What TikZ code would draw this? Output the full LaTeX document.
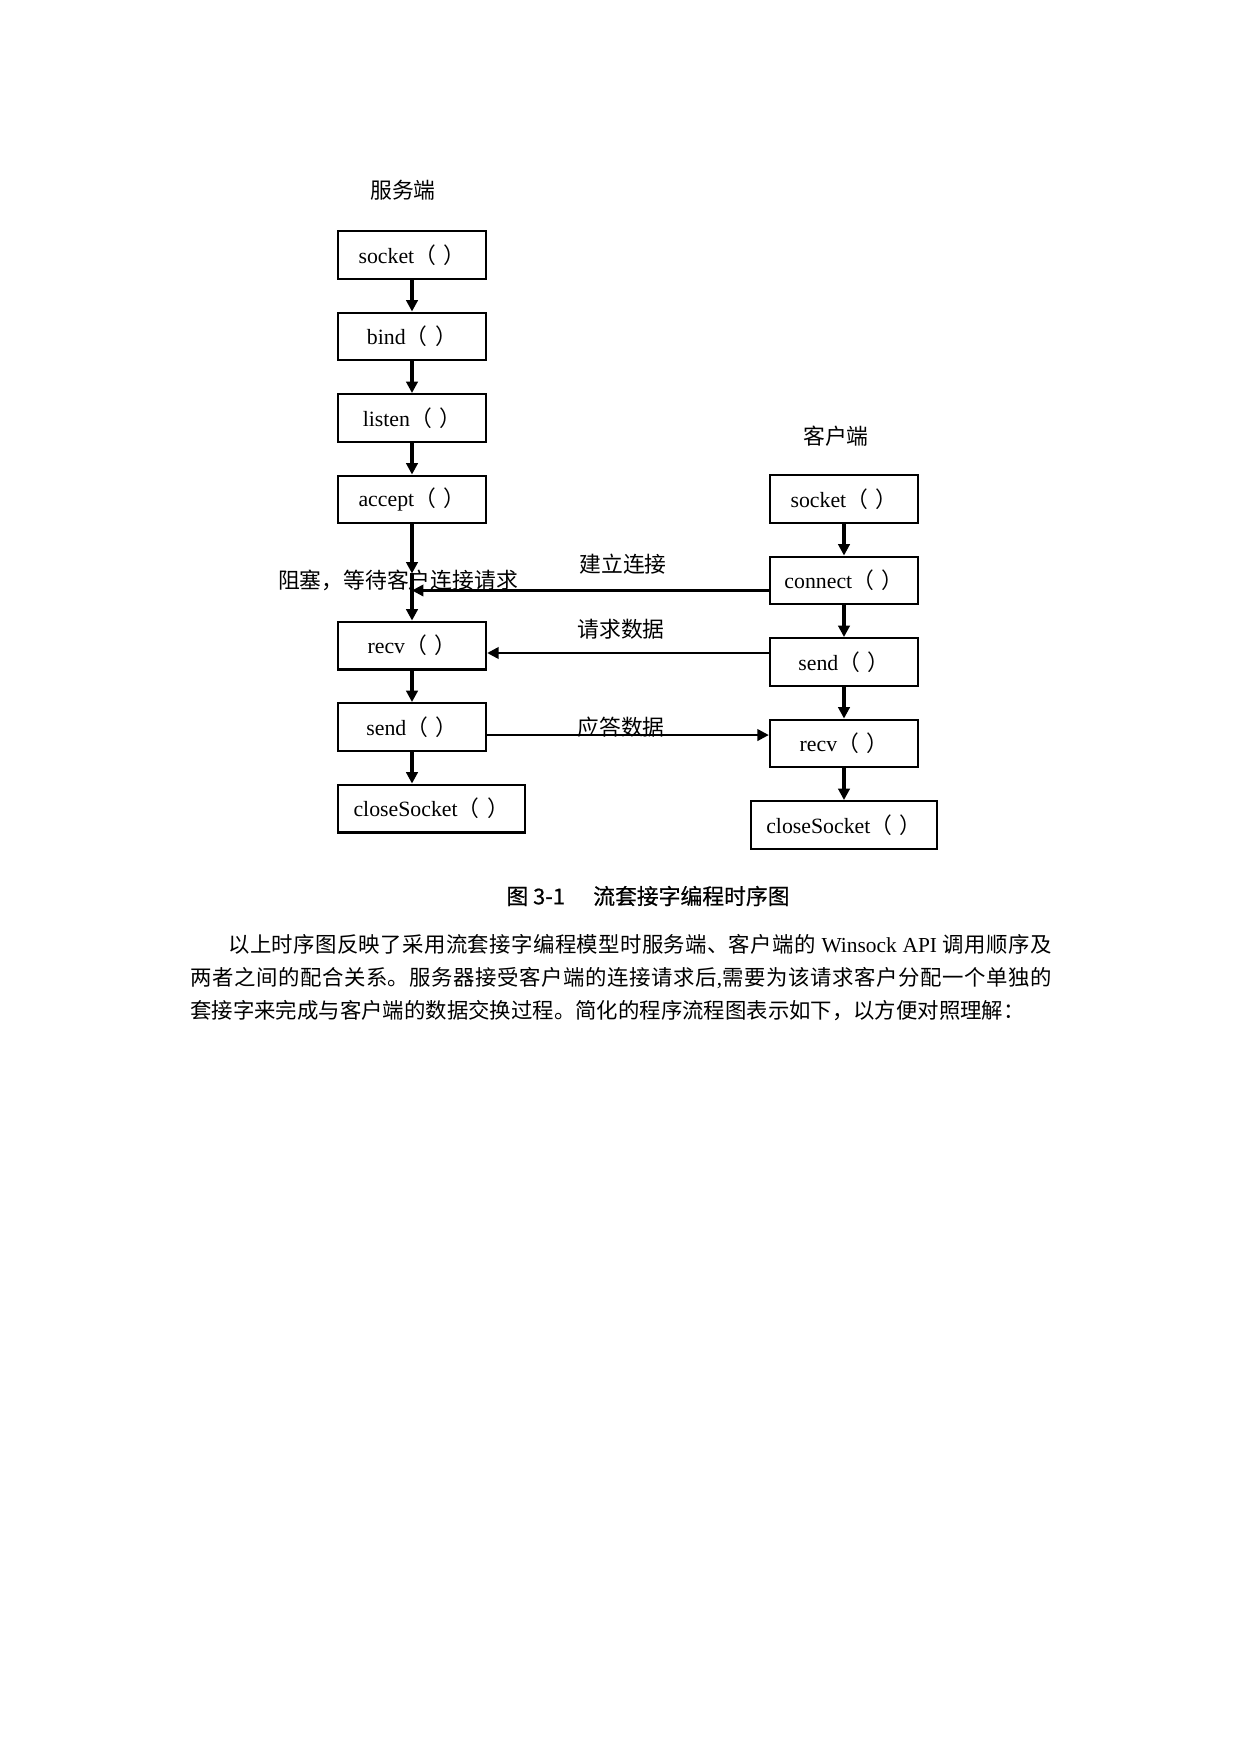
\documentclass[tikz,border=0pt]{standalone}
\usepackage{fontspec}
\setmainfont{Liberation Serif}
\newfontfamily\cjk{Noto Sans CJK SC}
\newfontfamily\cjkhei[FakeBold=0.6]{Noto Sans CJK SC}
\usetikzlibrary{positioning,arrows.meta}
\XeTeXlinebreaklocale "zh"
\XeTeXlinebreakskip = 0pt plus 1pt
\newcommand{\zh}[1]{{\cjk #1}}
\newcommand{\fcall}[1]{#1\zh{（\kern0.35em）}}

\begin{document}
\begin{tikzpicture}[
    x=0.016922cm, y=-0.016922cm,
    node distance=0.534cm,
    every node/.style={font=\fontsize{10.5pt}{12.6pt}\selectfont,inner sep=0pt},
    func/.style={draw,line width=1pt,minimum width=2.51cm,minimum height=0.81cm},
    widefunc/.style={func,minimum width=3.16cm},
    flow/.style={draw,line width=1.5pt,-{Triangle[length=5.5pt,width=5.5pt]}},
    msg/.style={draw,line width=1.2pt,-{Triangle[length=5.5pt,width=5.5pt]}}
  ]
    \useasboundingbox (0,0) rectangle (1241,1754);
    % server side
    \node (srvtitle) at (403,190) {\zh{服务端}};
    \node[func] (ssocket) at (412,255) {\fcall{socket}};
    \node[func,below=of ssocket] (sbind) {\fcall{bind}};
    \node[func,below=of sbind] (slisten) {\fcall{listen}};
    \node[func,below=of slisten] (saccept) {\fcall{accept}};
    \node[func,below=1.626cm of saccept] (srecv) {\fcall{recv}};
    \node[func,below=of srecv] (ssend) {\fcall{send}};
    \node[widefunc,below=of ssend.south west,anchor=north west] (sclose) {\fcall{closeSocket}};
    % client side
    \node (clititle) at (836,436) {\zh{客户端}};
    \node[func] (csocket) at (844,499) {\fcall{socket}};
    \node[func,below=of csocket] (cconnect) {\fcall{connect}};
    \node[func,below=of cconnect] (csend) {\fcall{send}};
    \node[func,below=of csend] (crecv) {\fcall{recv}};
    \node[widefunc,below=of crecv] (cclose) {\fcall{closeSocket}};

    \foreach \a/\b in {ssocket/sbind,sbind/slisten,slisten/saccept,srecv/ssend,ssend/sclose,
                       csocket/cconnect,cconnect/csend,csend/crecv,crecv/cclose}
      \draw[flow] (\a.south) -- (\a.south |- \b.north);

    % blocking on accept
    \path (saccept.south) ++(0,49) coordinate (wait);
    \path (wait) ++(0,17) coordinate (hit);
    \draw[flow] (saccept) -- (wait);
    \draw[flow] (wait) -- (srecv);
    \node (block) at (398,580) {\zh{阻塞，等待客户连接请求}};

    % messages
    \draw[msg] (hit -| cconnect.west) -- (hit);
    \node (conlbl) at (623,564) {\zh{建立连接}};
    \path (csend.west) ++(0,-9) coordinate (req);
    \draw[msg] (req) -- (req -| srecv.east);
    \node (reqlbl) at (621,629) {\zh{请求数据}};
    \path (ssend.east) ++(0,8) coordinate (rep);
    \draw[msg] (rep) -- (rep -| crecv.west);
    \node (replbl) at (621,727) {\zh{应答数据}};

    % caption and text
    \node (caption) at (648,896) {\cjkhei 图~3-1\hspace{1.3em}流套接字编程时序图};
    \node[anchor=north west,text width=14.57cm,align=justify,
          font=\fontsize{10.3pt}{15.8pt}\selectfont] (para) at (190,934)
      {\cjk\hspace*{0.64cm}以上时序图反映了采用流套接字编程模型时服务端、客户端的{\rmfamily\ Winsock API }调用顺序及\linebreak
       两者之间的配合关系。服务器接受客户端的连接请求后{\rmfamily ,}需要为该请求客户分配一个单独的\linebreak
       套接字来完成与客户端的数据交换过程。简化的程序流程图表示如下，以方便对照理解：};
  \end{tikzpicture}
\end{document}
